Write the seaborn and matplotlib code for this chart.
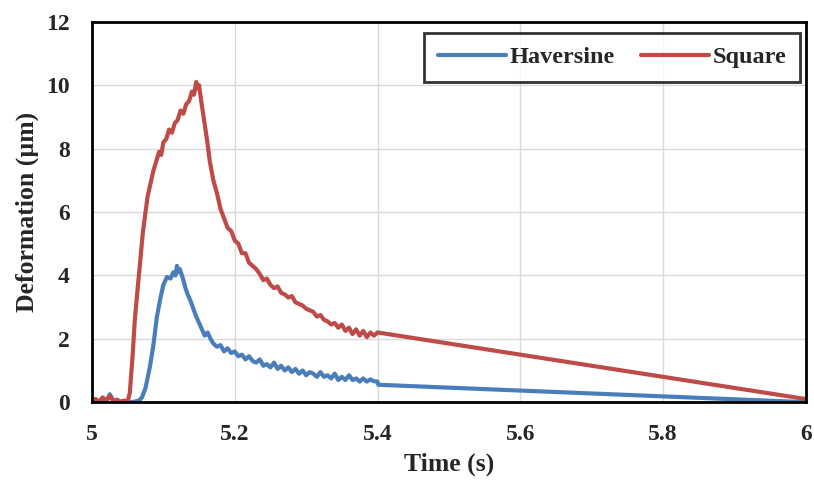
import numpy as np
import pandas as pd
import matplotlib
matplotlib.use('Agg')
import matplotlib.pyplot as plt
import seaborn as sns

# Haversine pulse response (time in s, deformation in um)
hav_t = [5.000, 5.005, 5.010, 5.015, 5.020, 5.025, 5.030, 5.035, 5.045, 5.055, 5.066,
         5.070, 5.075, 5.081, 5.086, 5.091, 5.096, 5.100, 5.105, 5.110, 5.114, 5.117,
         5.119, 5.121, 5.123, 5.126, 5.128, 5.131, 5.134, 5.138, 5.142, 5.146, 5.150,
         5.154, 5.158, 5.162, 5.166, 5.170, 5.175, 5.180, 5.185, 5.190, 5.195, 5.200,
         5.205, 5.210, 5.215, 5.220, 5.225, 5.230, 5.235, 5.240, 5.245, 5.250, 5.255,
         5.260, 5.265, 5.270, 5.275, 5.280, 5.285, 5.290, 5.295, 5.300, 5.305, 5.310,
         5.315, 5.320, 5.325, 5.330, 5.335, 5.340, 5.345, 5.350, 5.355, 5.360, 5.365,
         5.370, 5.375, 5.380, 5.385, 5.390, 5.395, 5.400, 5.401, 6.000]
hav_y = [0.00, 0.05, 0.00, 0.10, 0.02, 0.25, 0.05, 0.00, 0.00, 0.00, 0.05,
         0.15, 0.45, 1.10, 1.80, 2.70, 3.30, 3.70, 3.95, 3.90, 4.10, 4.00,
         4.30, 4.10, 4.20, 4.00, 3.85, 3.60, 3.40, 3.20, 2.95, 2.70, 2.50,
         2.30, 2.10, 2.20, 2.00, 1.85, 1.75, 1.80, 1.60, 1.70, 1.55, 1.60,
         1.45, 1.50, 1.35, 1.45, 1.30, 1.25, 1.35, 1.15, 1.20, 1.10, 1.25,
         1.05, 1.15, 1.00, 1.10, 0.95, 1.05, 0.90, 1.00, 0.85, 0.95, 0.90,
         0.80, 0.95, 0.80, 0.85, 0.75, 0.90, 0.70, 0.80, 0.70, 0.85, 0.70,
         0.75, 0.65, 0.75, 0.65, 0.72, 0.66, 0.65, 0.55, 0.00]

# Square pulse response
sq_t = [5.000, 5.005, 5.010, 5.015, 5.020, 5.025, 5.030, 5.035, 5.040, 5.045, 5.050,
        5.053, 5.057, 5.060, 5.064, 5.067, 5.071, 5.075, 5.078, 5.082, 5.086, 5.090,
        5.094, 5.097, 5.100, 5.104, 5.108, 5.112, 5.116, 5.120, 5.124, 5.128, 5.132,
        5.136, 5.140, 5.143, 5.146, 5.148, 5.150, 5.153, 5.157, 5.161, 5.165, 5.170,
        5.175, 5.180, 5.185, 5.190, 5.195, 5.200, 5.205, 5.210, 5.215, 5.220, 5.225,
        5.230, 5.235, 5.240, 5.245, 5.250, 5.255, 5.260, 5.265, 5.270, 5.275, 5.280,
        5.285, 5.290, 5.295, 5.300, 5.305, 5.310, 5.315, 5.320, 5.325, 5.330, 5.335,
        5.340, 5.345, 5.350, 5.355, 5.360, 5.365, 5.370, 5.375, 5.380, 5.385, 5.390,
        5.395, 5.400, 6.000]
sq_y = [0.05, 0.10, 0.02, 0.15, 0.05, 0.20, 0.03, 0.08, 0.02, 0.05, 0.02,
        0.30, 1.50, 2.60, 3.60, 4.30, 5.30, 6.00, 6.50, 6.90, 7.30, 7.60,
        7.90, 7.80, 8.20, 8.30, 8.60, 8.50, 8.80, 8.90, 9.20, 9.10, 9.40,
        9.50, 9.80, 9.70, 10.10, 9.90, 10.00, 9.50, 8.90, 8.30, 7.60, 7.00,
        6.60, 6.10, 5.80, 5.50, 5.40, 5.10, 5.00, 4.70, 4.70, 4.40, 4.30,
        4.20, 4.05, 3.85, 3.90, 3.70, 3.60, 3.65, 3.45, 3.40, 3.30, 3.35,
        3.15, 3.10, 3.05, 2.95, 2.90, 2.85, 2.70, 2.75, 2.60, 2.55, 2.45,
        2.50, 2.35, 2.45, 2.25, 2.35, 2.15, 2.30, 2.10, 2.25, 2.05, 2.20,
        2.10, 2.20, 0.10]

series_names = ['Haversine', 'Square']
series_colors = ['#4A7EBB', '#BE4B48']
x_ticks = [5, 5.2, 5.4, 5.6, 5.8, 6]
x_tick_labels = ['5', '5.2', '5.4', '5.6', '5.8', '6']
y_ticks = [0, 2, 4, 6, 8, 10, 12]

df = pd.concat([
    pd.DataFrame({'t': hav_t, 'd': hav_y, 'pulse': series_names[0]}),
    pd.DataFrame({'t': sq_t, 'd': sq_y, 'pulse': series_names[1]}),
], ignore_index=True)

sns.set_style('white')
plt.rcParams['font.family'] = ['Liberation Serif', 'DejaVu Serif']
plt.rcParams['font.weight'] = 'bold'

fig = plt.figure(figsize=(8.14, 4.84), dpi=100)
ax = fig.add_axes([0.113, 0.169, 0.877, 0.786])

sns.lineplot(data=df, x='t', y='d', hue='pulse', hue_order=series_names,
             palette=dict(zip(series_names, series_colors)),
             estimator=None, sort=False, lw=3.0, ax=ax)

ax.set_xlim(5, 6)
ax.set_ylim(0, 12)
ax.set_xticks(x_ticks)
ax.set_xticklabels(x_tick_labels)
ax.set_yticks(y_ticks)
ax.grid(True, color='#D9D9D9', lw=1)
ax.set_axisbelow(True)
ax.tick_params(axis='x', length=0, labelsize=17, pad=16)
ax.tick_params(axis='y', length=0, labelsize=17, pad=16)
for lab in ax.get_xticklabels() + ax.get_yticklabels():
    lab.set_fontweight('bold')
for s in ax.spines.values():
    s.set_visible(True)
    s.set_color('black')
    s.set_linewidth(2)

ax.set_xlabel('Time (s)', fontsize=18.5, fontweight='bold', labelpad=5)
ax.set_ylabel('Deformation (µm)', fontsize=18.5, fontweight='bold', labelpad=5)

leg = ax.legend(loc='upper right', ncol=2, fontsize=17.5, frameon=True,
                fancybox=False, handlelength=2.8, columnspacing=1.1,
                handletextpad=0.15, borderpad=0.55, borderaxespad=0,
                bbox_to_anchor=(0.992, 0.971))
leg.get_frame().set_edgecolor('black')
leg.get_frame().set_linewidth(2)
for t in leg.get_texts():
    t.set_fontweight('bold')

fig.savefig('out.png', dpi=100, facecolor='white')
